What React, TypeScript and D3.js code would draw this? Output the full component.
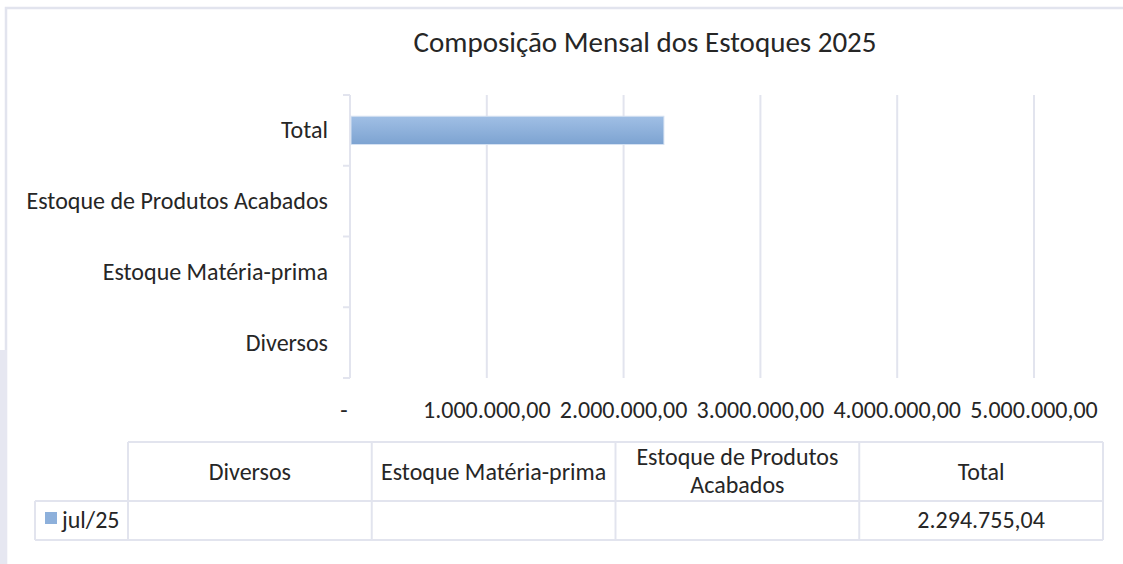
import { useEffect, useRef } from "react";
import * as d3 from "d3";

// chart data
const categories = ["Diversos", "Estoque Matéria-prima", "Estoque de Produtos Acabados", "Total"];
const seriesName = "jul/25";
const seriesValues: (number | null)[] = [null, null, null, 2294755.04];
const xTicks = [0, 1000000, 2000000, 3000000, 4000000, 5000000];
const title = "Composição Mensal dos Estoques 2025";

const locale = d3.formatLocale({ decimal: ",", thousands: ".", grouping: [3], currency: ["R$", ""] });
const fmt = locale.format(",.2f");
const tickFmt = (d: number) => (d === 0 ? "-" : fmt(d));

export default function App() {
  const svgRef = useRef<SVGSVGElement | null>(null);
  const width = 1123;
  const height = 564;

  useEffect(() => {
    if (!svgRef.current) return;
    const svg = d3.select(svgRef.current);
    const font = "Carlito, Lato, sans-serif";
    const textColor = "#262626";
    const lineColor = "#e2e4ee";
    const fs = 24;

    const marginLeft = 350;
    const plotRight = 1034;
    const plotTop = 95;
    const plotBottom = 378;

    const x = d3.scaleLinear([0, 5000000], [marginLeft, plotRight]);
    const y = d3.scaleBand(categories.slice().reverse(), [plotTop, plotBottom])
      .paddingInner(0.6)
      .paddingOuter(0.3);

    // frame
    svg.append("path")
      .attr("d", `M6,${height} L6,8 L${width},8`)
      .attr("fill", "none")
      .attr("stroke", lineColor)
      .attr("stroke-width", 2.5);
    svg.append("rect")
      .attr("x", 0).attr("y", 350).attr("width", 7).attr("height", height - 350)
      .attr("fill", "#e6e7f1");

    // title
    svg.append("text")
      .attr("x", 645).attr("y", 52)
      .attr("text-anchor", "middle")
      .attr("font-family", font).attr("font-size", 29)
      .attr("fill", textColor)
      .text(title);

    // gridlines
    svg.append("g")
      .selectAll("line")
      .data(xTicks.slice(1))
      .join("line")
      .attr("x1", d => x(d)).attr("x2", d => x(d))
      .attr("y1", plotTop).attr("y2", plotBottom)
      .attr("stroke", lineColor).attr("stroke-width", 2);

    // y axis with ticks between categories
    const boundaries = [plotTop, ...categories.map((_, i) => plotTop + (i + 1) * y.step())];
    const yAxis = svg.append("g");
    yAxis.append("line")
      .attr("x1", marginLeft).attr("x2", marginLeft)
      .attr("y1", plotTop).attr("y2", plotBottom)
      .attr("stroke", lineColor).attr("stroke-width", 2);
    yAxis.selectAll("line.tick")
      .data(boundaries)
      .join("line")
      .attr("class", "tick")
      .attr("x1", marginLeft - 7).attr("x2", marginLeft)
      .attr("y1", d => d).attr("y2", d => d)
      .attr("stroke", lineColor).attr("stroke-width", 2);
    yAxis.selectAll("text")
      .data(categories)
      .join("text")
      .attr("x", 328)
      .attr("y", d => (y(d) ?? 0) + y.bandwidth() / 2 + 8)
      .attr("text-anchor", "end")
      .attr("font-family", font).attr("font-size", fs)
      .attr("fill", textColor)
      .text(d => d);

    // x tick labels
    svg.append("g")
      .selectAll("text")
      .data(xTicks)
      .join("text")
      .attr("x", d => (d === 0 ? x(d) - 6 : x(d)))
      .attr("y", 418)
      .attr("text-anchor", "middle")
      .attr("font-family", font).attr("font-size", fs)
      .attr("fill", textColor)
      .text(d => tickFmt(d));

    // bar gradient
    const defs = svg.append("defs");
    const grad = defs.append("linearGradient")
      .attr("id", "barGrad").attr("x1", 0).attr("y1", 0).attr("x2", 0).attr("y2", 1);
    grad.append("stop").attr("offset", "0%").attr("stop-color", "#a0bfe5");
    grad.append("stop").attr("offset", "100%").attr("stop-color", "#7da3d1");

    const barData = categories.map((c, i) => ({ c, v: seriesValues[i] })).filter(d => d.v != null);
    svg.append("g")
      .selectAll("rect")
      .data(barData)
      .join("rect")
      .attr("x", x(0) + 1)
      .attr("y", d => y(d.c) ?? 0)
      .attr("width", d => x(d.v as number) - x(0) - 1)
      .attr("height", y.bandwidth())
      .attr("fill", "url(#barGrad)")
      .attr("stroke", "#d6e2f2").attr("stroke-width", 1);

    // data table
    const tableLeft = 35;
    const legendRight = 128;
    const tableRight = 1103;
    const headTop = 442;
    const rowTop = 501;
    const rowBottom = 540;
    const col = d3.scaleBand(categories, [legendRight, tableRight]);
    const table = svg.append("g");
    const tl = (x1: number, y1: number, x2: number, y2: number) =>
      table.append("line")
        .attr("x1", x1).attr("y1", y1).attr("x2", x2).attr("y2", y2)
        .attr("stroke", lineColor).attr("stroke-width", 2);
    tl(legendRight, headTop, tableRight, headTop);
    tl(tableLeft, rowTop, tableRight, rowTop);
    tl(tableLeft, rowBottom, tableRight, rowBottom);
    tl(tableLeft, rowTop, tableLeft, rowBottom);
    tl(legendRight, headTop, legendRight, rowBottom);
    categories.forEach(c => tl((col(c) ?? 0) + col.bandwidth(), headTop, (col(c) ?? 0) + col.bandwidth(), rowBottom));

    const heads: Record<string, string[]> = {
      "Estoque de Produtos Acabados": ["Estoque de Produtos", "Acabados"],
    };
    categories.forEach(c => {
      const lines = heads[c] ?? [c];
      const cx = (col(c) ?? 0) + col.bandwidth() / 2;
      const base = lines.length === 1 ? 480 : 465;
      lines.forEach((ln, i) => {
        table.append("text")
          .attr("x", cx).attr("y", base + i * 28)
          .attr("text-anchor", "middle")
          .attr("font-family", font).attr("font-size", fs)
          .attr("fill", textColor)
          .text(ln);
      });
    });
    // legend key + values
    table.append("rect")
      .attr("x", 45).attr("y", 512).attr("width", 12).attr("height", 12)
      .attr("fill", "#8db0db");
    table.append("text")
      .attr("x", 62).attr("y", 528)
      .attr("font-family", font).attr("font-size", fs)
      .attr("fill", textColor)
      .text(seriesName);
    categories.forEach((c, i) => {
      const v = seriesValues[i];
      if (v == null) return;
      table.append("text")
        .attr("x", (col(c) ?? 0) + col.bandwidth() / 2).attr("y", 528)
        .attr("text-anchor", "middle")
        .attr("font-family", font).attr("font-size", fs)
        .attr("fill", textColor)
        .text(fmt(v));
    });

    return () => {
      svg.selectAll("*").remove();
    };
  }, []);

  return (
    <svg
      ref={svgRef}
      width={width}
      height={height}
      viewBox={`0 0 ${width} ${height}`}
      style={{ position: "absolute", left: 0, top: 0, background: "#fff", display: "block" }}
    />
  );
}
